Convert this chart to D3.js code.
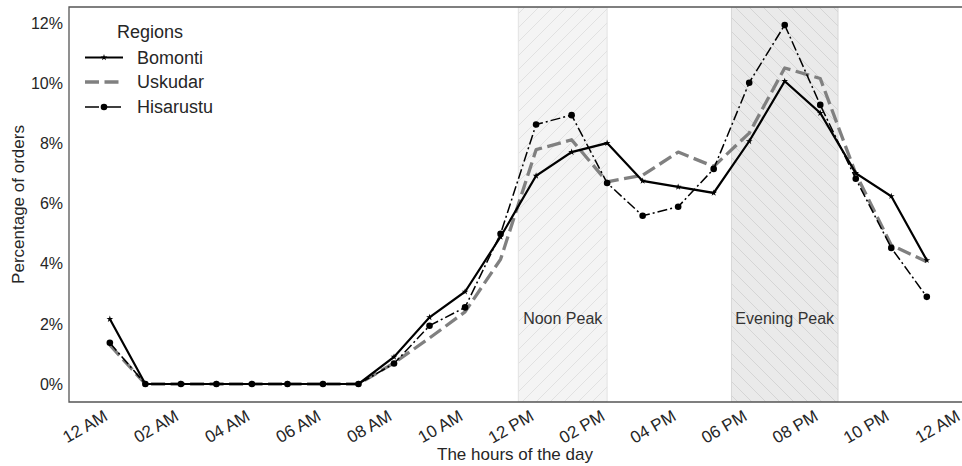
<!DOCTYPE html>
<html>
<head>
<meta charset="utf-8">
<script src="https://cdn.jsdelivr.net/npm/d3@7"></script>
<style>
  html, body { margin: 0; padding: 0; background: #fff; }
  svg { display: block; font-family: "Liberation Sans", Arial, Helvetica, sans-serif; }
</style>
</head>
<body>
<svg id="chart" width="962" height="466"></svg>
<script>
// ---- data ----
const hours = [0,1,2,3,4,5,6,7,8,9,10,11,12,13,14,15,16,17,18,19,20,21,22,23];
const bomonti   = [2.16,0,0,0,0,0,0,0,0.90,2.22,3.07,4.90,6.93,7.72,8.02,6.76,6.56,6.36,8.08,10.08,9.02,7.02,6.25,4.12];
const uskudar   = [1.30,0,0,0,0,0,0,0,0.70,1.53,2.40,4.15,7.80,8.13,6.73,6.95,7.72,7.24,8.35,10.52,10.17,7.00,4.62,4.07];
const hisarustu = [1.37,0,0,0,0,0,0,0,0.68,1.94,2.55,5.00,8.64,8.95,6.69,5.60,5.90,7.16,10.03,11.95,9.29,6.83,4.53,2.90];
const seriesNames = ["Bomonti", "Uskudar", "Hisarustu"];
const xTickValues = [0,2,4,6,8,10,12,14,16,18,20,22,24];
const xTickLabels = ["12 AM","02 AM","04 AM","06 AM","08 AM","10 AM","12 PM","02 PM","04 PM","06 PM","08 PM","10 PM","12 AM"];
const yTickValues = [0,2,4,6,8,10,12];
const peakNames = ["Noon Peak", "Evening Peak"];
const peakStarts = [11.5, 17.5];
const peakEnds = [14, 20.5];

// ---- layout ----
const svg = d3.select("#chart");
const plotLeft = 69, plotTop = 7, plotBottom = 402;
const x = d3.scaleLinear().domain([-1.15, 24.15]).range([plotLeft, plotLeft + 25.3 * 35.52]);
const y = d3.scaleLinear().domain([-0.6, 12.55]).range([plotBottom, plotTop]);
const textColor = "#262626";

// patterns
const defs = svg.append("defs");
const p1 = defs.append("pattern").attr("id", "hatchFwd").attr("patternUnits", "userSpaceOnUse")
  .attr("width", 14).attr("height", 14);
p1.append("rect").attr("width", 14).attr("height", 14).attr("fill", "#f4f4f4");
p1.append("path").attr("d", "M0,14 L14,0 M-7,7 L7,-7 M7,21 L21,7").attr("stroke", "#dcdcdc").attr("stroke-width", 0.8);
const p2 = defs.append("pattern").attr("id", "hatchBack").attr("patternUnits", "userSpaceOnUse")
  .attr("width", 14).attr("height", 14);
p2.append("rect").attr("width", 14).attr("height", 14).attr("fill", "#eaeaea");
p2.append("path").attr("d", "M0,0 L14,14 M-7,7 L7,21 M7,-7 L21,7").attr("stroke", "#cfcfcf").attr("stroke-width", 0.8);
defs.append("clipPath").attr("id", "plotClip").append("rect")
  .attr("x", plotLeft).attr("y", plotTop).attr("width", 1000).attr("height", plotBottom - plotTop);

const plot = svg.append("g").attr("clip-path", "url(#plotClip)");

// peak shading
const fills = ["url(#hatchFwd)", "url(#hatchBack)"];
const edges = ["#e2e2e2", "#d6d6d6"];
peakNames.forEach((name, i) => {
  plot.append("rect")
    .attr("x", x(peakStarts[i])).attr("y", plotTop)
    .attr("width", x(peakEnds[i]) - x(peakStarts[i])).attr("height", plotBottom - plotTop)
    .attr("fill", fills[i]).attr("stroke", edges[i]).attr("stroke-width", 1);
});

// lines
const line = d3.line().x((d, i) => x(hours[i])).y(d => y(d));
plot.append("path").datum(uskudar).attr("d", line)
  .attr("fill", "none").attr("stroke", "#808080").attr("stroke-width", 3.3)
  .attr("stroke-dasharray", "14,5.5").attr("stroke-linejoin", "round");
plot.append("path").datum(hisarustu).attr("d", line)
  .attr("fill", "none").attr("stroke", "#000").attr("stroke-width", 1.5)
  .attr("stroke-dasharray", "10,3,2,3");
plot.append("path").datum(bomonti).attr("d", line)
  .attr("fill", "none").attr("stroke", "#000").attr("stroke-width", 2.2);

// markers
const star = d3.symbol().type(d3.symbolStar).size(14);
plot.selectAll(".hm").data(hisarustu).enter().append("circle")
  .attr("cx", (d, i) => x(hours[i])).attr("cy", d => y(d)).attr("r", 3.3).attr("fill", "#000");
plot.selectAll(".bm").data(bomonti).enter().append("path")
  .attr("d", star).attr("transform", (d, i) => `translate(${x(hours[i])},${y(d)})`).attr("fill", "#000");

// peak labels
peakNames.forEach((name, i) => {
  plot.append("text")
    .attr("x", (x(peakStarts[i]) + x(peakEnds[i])) / 2).attr("y", y(2.0))
    .attr("text-anchor", "middle").attr("font-size", 16).attr("fill", "#333")
    .text(name);
});

// spines (right spine lies beyond the visible area)
svg.append("path")
  .attr("d", `M${x(24.15)},${plotTop} L${plotLeft},${plotTop} L${plotLeft},${plotBottom} L${x(24.15)},${plotBottom}`)
  .attr("fill", "none").attr("stroke", "#555").attr("stroke-width", 1.3);

// y ticks
const yAxis = d3.axisLeft(y).tickValues(yTickValues).tickSize(0).tickPadding(6)
  .tickFormat(d => d + "%");
const yg = svg.append("g").attr("transform", `translate(${plotLeft},0)`).call(yAxis);
yg.select(".domain").remove();
yg.selectAll("text").attr("font-size", 16).attr("fill", textColor)
  .attr("font-family", "Liberation Sans, Arial, sans-serif");

// x ticks
const xAxis = d3.axisBottom(x).tickValues(xTickValues).tickSize(0).tickPadding(0)
  .tickFormat((d, i) => xTickLabels[i]);
const xg = svg.append("g").attr("transform", `translate(0,${plotBottom})`).call(xAxis);
xg.select(".domain").remove();
xg.selectAll("text")
  .attr("font-size", 17).attr("fill", textColor)
  .attr("font-family", "Liberation Sans, Arial, sans-serif")
  .attr("text-anchor", "end").attr("dy", 0)
  .attr("transform", "translate(-1.5,17.5) rotate(-30)");

// axis titles
svg.append("text").attr("x", 515).attr("y", 460).attr("text-anchor", "middle")
  .attr("font-size", 17).attr("fill", textColor).text("The hours of the day");
svg.append("text").attr("transform", `translate(24,${(plotTop + plotBottom) / 2}) rotate(-90)`)
  .attr("text-anchor", "middle").attr("font-size", 17).attr("fill", textColor)
  .text("Percentage of orders");

// legend
const lg = svg.append("g");
lg.append("text").attr("x", 150).attr("y", 38).attr("text-anchor", "middle")
  .attr("font-size", 18).attr("fill", textColor).text("Regions");
const legY = [57.5, 82, 107];
const lx0 = 85, lx1 = 123;
lg.append("line").attr("x1", lx0).attr("x2", lx1).attr("y1", legY[0]).attr("y2", legY[0])
  .attr("stroke", "#000").attr("stroke-width", 2.2);
lg.append("path").attr("d", star).attr("transform", `translate(${(lx0 + lx1) / 2},${legY[0]})`).attr("fill", "#000");
lg.append("line").attr("x1", lx0).attr("x2", lx1).attr("y1", legY[1]).attr("y2", legY[1])
  .attr("stroke", "#808080").attr("stroke-width", 3.3).attr("stroke-dasharray", "14,5.5");
lg.append("line").attr("x1", lx0).attr("x2", lx1).attr("y1", legY[2]).attr("y2", legY[2])
  .attr("stroke", "#000").attr("stroke-width", 1.5).attr("stroke-dasharray", "14,3,2,3");
lg.append("circle").attr("cx", (lx0 + lx1) / 2).attr("cy", legY[2]).attr("r", 3.3).attr("fill", "#000");
seriesNames.forEach((n, i) => {
  lg.append("text").attr("x", 137).attr("y", legY[i]).attr("dy", "0.35em")
    .attr("font-size", 18).attr("fill", textColor).text(n);
});
</script>
</body>
</html>
